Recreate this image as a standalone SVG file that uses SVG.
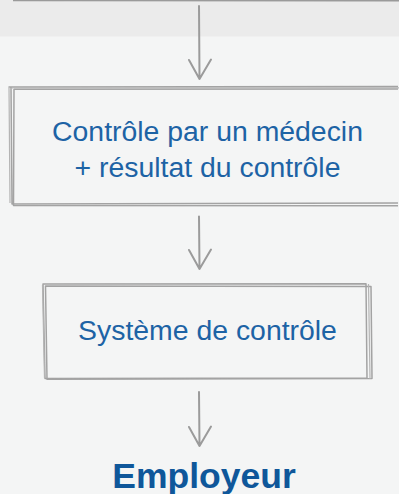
<svg xmlns="http://www.w3.org/2000/svg" width="399" height="494" viewBox="0 0 399 494">
<style>
.box{fill:none;stroke:#a3a3a3;stroke-width:1.5;stroke-linejoin:round}
.box2{fill:none;stroke:#b4b4b4;stroke-width:1.2;stroke-linejoin:round}
.arr{fill:none;stroke:#9b9b9b;stroke-width:2;stroke-linecap:round;stroke-linejoin:round}
.t{font-family:"Liberation Sans",Arial,sans-serif;font-size:28.4px;fill:#1d63a5;text-anchor:middle}
.tb{font-family:"Liberation Sans",Arial,sans-serif;font-size:35.5px;font-weight:bold;fill:#0f579a;text-anchor:middle}
</style>
<rect x="0" y="0" width="399" height="494" fill="#f4f5f5"/>
<rect x="0" y="0" width="399" height="36.5" fill="#ebebeb"/>
<line x1="13" y1="0.5" x2="399" y2="0.8" stroke="#9a9a9a" stroke-width="1.6"/>
<g id="connectors">
<path class="arr" d="M199 6 L199.5 79 M189 60 L199.5 79 L211 59.5"/>
<path class="arr" d="M199 216.5 L199.5 269 M189 250 L199.5 269 L211 249.5"/>
<path class="arr" d="M199 392 L199.5 446 M189 427 L199.5 446 L211 426.5"/>
</g>
<g id="node-medecin">
<rect x="0" y="0" width="0" height="0" fill="none"/>
<path d="M11 88.5 L398 88 L398.5 204.5 L13 204.5 Z" fill="#f4f5f5" stroke="none"/>
<path class="box" d="M8.5 87 L398 86.5 M11 86.8 L12 204 L398 203 M14 89.3 L398 89 M14 89 L13.5 205.5 L398 205.8"/>
<path class="box2" d="M9 87.5 L10 203 M11.5 88 L399 87.8"/>
<text class="t" x="207.5" y="141">Contrôle par un médecin</text>
<text class="t" x="207.5" y="177.3">+ résultat du contrôle</text>
</g>
<g id="node-systeme">
<path class="box" d="M43 284 L366 283.8 L367 378 L45 378.5 Z"/>
<path class="box" d="M45.5 286 L371 286.5 L372 378.5 L47 379.3 Z"/>
<path class="box2" d="M42.5 285 L44.5 378 M368.5 284 L370 379"/>
<text class="t" x="207.5" y="340.3">Système de contrôle</text>
</g>
<g id="node-employeur">
<text class="tb" x="204" y="487.6">Employeur</text>
</g>
</svg>
